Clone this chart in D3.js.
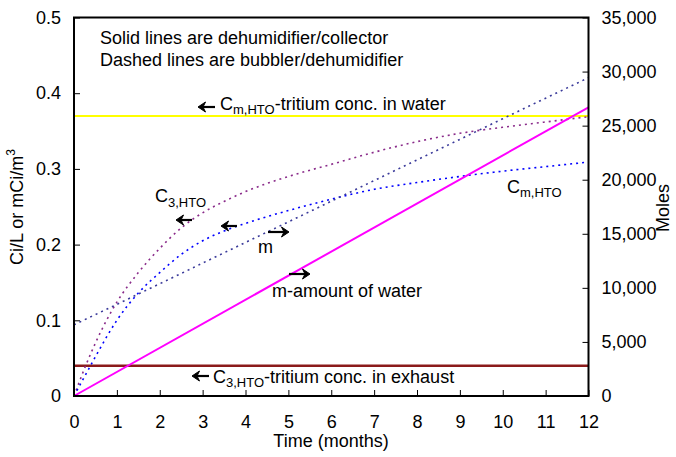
<!DOCTYPE html>
<html><head><meta charset="utf-8">
<script src="https://cdn.jsdelivr.net/npm/d3@7"></script>
<style>body{margin:0;background:#fff}svg{display:block}text{font-family:"Liberation Sans",Arial,sans-serif;fill:#000}</style>
</head><body><svg id="c" width="676" height="457"></svg>
<script>
// ---- data ----
const months = [0,0.25,0.5,0.75,1,1.5,2,2.5,3,3.5,4,5,6,7,8,9,10,11,12];
// bubbler/dehumidifier (dashed), left axis
const c3Bubbler = [0,0.037,0.07,0.099,0.124,0.163,0.195,0.222,0.242,0.257,0.27,0.29,0.306,0.322,0.336,0.347,0.355,0.362,0.369];
const cmBubbler = [0,0.026,0.052,0.077,0.1,0.136,0.163,0.187,0.205,0.218,0.228,0.245,0.26,0.273,0.282,0.29,0.297,0.303,0.309];
// bubbler/dehumidifier (dashed), right axis (moles)
const mBubbler = [6580,7060,7530,8000,8470,9430,10380,11330,12290,13240,14200,16100,18010,19920,21830,23730,25640,27540,29430];
// dehumidifier/collector (solid)
const solidMonths = [0,12];
const cmCollector = [0.37,0.37];      // Cm,HTO tritium conc. in water
const c3Collector = [0.04,0.04];      // C3,HTO tritium conc. in exhaust
const mCollector = [0,26700];         // m amount of water (moles)
const xTicks = [0,1,2,3,4,5,6,7,8,9,10,11,12];
const yLeftTicks = [0,0.1,0.2,0.3,0.4,0.5];
const yRightTicks = [0,5000,10000,15000,20000,25000,30000,35000];

const svg = d3.select("#c");
const L=74, R=588.5, T=17.5, B=396;
const x = d3.scaleLinear().domain([0,12]).range([L,R]);
const yL = d3.scaleLinear().domain([0,0.5]).range([B,T]);
const yR = d3.scaleLinear().domain([0,35000]).range([B,T]);

const FS = 18;
// axes
const gx = svg.append("g").attr("transform",`translate(0,${B})`)
  .call(d3.axisBottom(x).tickValues(xTicks).tickSize(-6).tickPadding(19).tickFormat(d3.format("d")));
const gl = svg.append("g").attr("transform",`translate(${L},0)`)
  .call(d3.axisLeft(yL).tickValues(yLeftTicks).tickSize(-6).tickPadding(13).tickFormat(d=>d===0?"0":d.toFixed(1)));
const gr = svg.append("g").attr("transform",`translate(${R},0)`)
  .call(d3.axisRight(yR).tickValues(yRightTicks).tickSize(-6).tickPadding(13).tickFormat(d3.format(",")));
[gx,gl,gr].forEach(g=>{
  g.select(".domain").remove();
  g.selectAll(".tick line").attr("stroke","#000").attr("stroke-width",1);
  g.selectAll(".tick text").attr("font-size",FS).attr("font-family","Liberation Sans, Arial, sans-serif");
});

// series
const line = (xs, ys, ysc) => d3.line().curve(d3.curveMonotoneX).x((d,i)=>x(xs[i])).y(d=>ysc(d))(ys);
svg.append("path").attr("d",line(solidMonths,cmCollector,yL)).attr("fill","none").attr("stroke","#FFFF00").attr("stroke-width",2);
svg.append("path").attr("d",line(solidMonths,c3Collector,yL)).attr("fill","none").attr("stroke","#8B1A1A").attr("stroke-width",2.5);
svg.append("path").attr("d",line(months,c3Bubbler,yL)).attr("fill","none").attr("stroke","#8A2B8A").attr("stroke-width",1.6).attr("stroke-dasharray","2,4");
svg.append("path").attr("d",line(months,cmBubbler,yL)).attr("fill","none").attr("stroke","#0000FF").attr("stroke-width",1.6).attr("stroke-dasharray","2,4");
svg.append("path").attr("d",line(months,mBubbler,yR)).attr("fill","none").attr("stroke","#3A3A9A").attr("stroke-width",1.6).attr("stroke-dasharray","2,4");
svg.append("path").attr("d",line(solidMonths,mCollector,yR)).attr("fill","none").attr("stroke","#FF00FF").attr("stroke-width",2);

// frame
svg.append("rect").attr("x",L).attr("y",T).attr("width",R-L).attr("height",B-T).attr("fill","none").attr("stroke","#000").attr("stroke-width",2);

// axis titles
svg.append("text").attr("x",331).attr("y",447).attr("text-anchor","middle").attr("font-size",FS).text("Time (months)");
const yt = svg.append("text").attr("transform","translate(23,207) rotate(-90)").attr("text-anchor","middle").attr("font-size",FS);
yt.append("tspan").text("Ci/L or mCi/m");
yt.append("tspan").attr("font-size",12).attr("dy",-8).text("3");
svg.append("text").attr("transform","translate(669,208) rotate(-90)").attr("text-anchor","middle").attr("font-size",FS).text("Moles");

// annotations
function txt(xp,yp,s){
  return svg.append("text").attr("x",xp).attr("y",yp).attr("font-size",FS).text(s);
}
function sub(xp,yp,main,subs,rest,drop){
  const t = svg.append("text").attr("x",xp).attr("y",yp).attr("font-size",FS);
  t.append("tspan").text(main);
  t.append("tspan").attr("font-size",13).attr("dy",drop).text(subs);
  if(rest) t.append("tspan").attr("dy",-drop).text(rest);
}
function arrow(x1,y1,x2,y2){
  const dir = Math.sign(x2-x1);
  svg.append("line").attr("x1",x1).attr("y1",y1).attr("x2",x2-dir*4).attr("y2",y2).attr("stroke","#000").attr("stroke-width",2.2);
  svg.append("path").attr("d",`M${x2},${y2} L${x2-dir*7.5},${y2-5} L${x2-dir*5},${y2} L${x2-dir*7.5},${y2+5} Z`).attr("fill","#000").attr("stroke","#000").attr("stroke-width",1);
}
txt(100,44,"Solid lines are dehumidifier/collector");
txt(100,66,"Dashed lines are bubbler/dehumidifier");
arrow(215,107,198,107);
sub(220,110,"C","m,HTO","-tritium conc. in water",4);
sub(155,202,"C","3,HTO",null,5);
arrow(192,220,176,220);
arrow(237,226,221,226);
arrow(268,232,289,232);
txt(258,253,"m");
arrow(289,274,310,274);
txt(272,297,"m-amount of water");
sub(507,193,"C","m,HTO",null,4);
arrow(209,376,192,376);
sub(213,383,"C","3,HTO","-tritium conc. in exhaust",4);
</script></body></html>
